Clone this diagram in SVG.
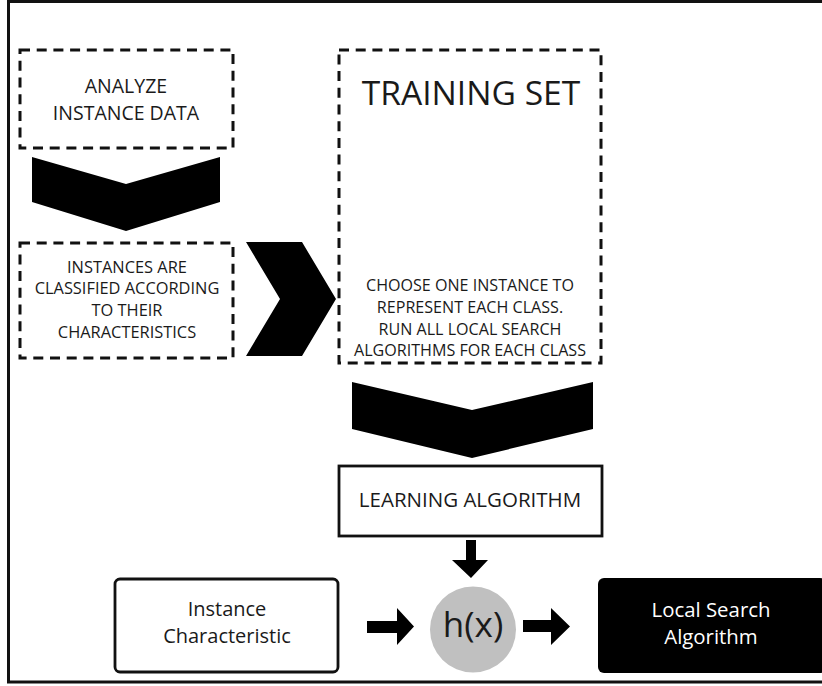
<svg xmlns="http://www.w3.org/2000/svg" width="822" height="686" viewBox="0 0 822 686">
  <style>
    .txt { font-family: "Open Sans", "Liberation Sans", sans-serif; fill: #1a1a1a; text-anchor: middle; }
    .dash { fill: #fff; stroke: #111; stroke-width: 3; stroke-dasharray: 10 6.7; }
    .solid { fill: #fff; stroke: #111; stroke-width: 2.8; }
    .shape { fill: #000; stroke: none; }
  </style>

  <rect x="0" y="0" width="822" height="686" fill="#fff"/>
  <!-- outer frame (right side runs off the canvas) -->
  <path d="M 824 1.5 H 8.5 V 682 H 824" fill="none" stroke="#111" stroke-width="3"/>

  <g id="analyze">
    <rect class="dash" x="20" y="50" width="213" height="98"/>
    <text class="txt" x="126" y="93" font-size="19.5">ANALYZE</text>
    <text class="txt" x="126" y="120" font-size="19.5">INSTANCE DATA</text>
  </g>

  <g id="classified">
    <rect class="dash" x="20" y="243" width="213" height="115"/>
    <text class="txt" x="127" y="273" font-size="16.4">INSTANCES ARE</text>
    <text class="txt" x="127" y="294" font-size="16.4">CLASSIFIED ACCORDING</text>
    <text class="txt" x="127" y="316" font-size="16.4">TO THEIR</text>
    <text class="txt" x="127" y="338" font-size="16.4">CHARACTERISTICS</text>
  </g>

  <g id="training-set">
    <rect class="dash" x="339" y="50" width="262" height="313"/>
    <text class="txt" x="471" y="105" font-size="33.6">TRAINING SET</text>
    <text class="txt" x="470" y="291" font-size="16.1">CHOOSE ONE INSTANCE TO</text>
    <text class="txt" x="470" y="313" font-size="16.1">REPRESENT EACH CLASS.</text>
    <text class="txt" x="470" y="335" font-size="16.1">RUN ALL LOCAL SEARCH</text>
    <text class="txt" x="470" y="356" font-size="16.1">ALGORITHMS FOR EACH CLASS</text>
  </g>

  <g id="learning-algorithm">
    <rect class="solid" x="339" y="466" width="263" height="70"/>
    <text class="txt" x="470" y="507" font-size="20.5">LEARNING ALGORITHM</text>
  </g>

  <g id="instance-characteristic">
    <rect class="solid" x="115" y="579" width="223" height="93" rx="5"/>
    <text class="txt" x="227" y="616" font-size="20">Instance</text>
    <text class="txt" x="227" y="643" font-size="20">Characteristic</text>
  </g>

  <g id="hypothesis">
    <circle cx="473" cy="629.5" r="43" fill="#c0c0c0"/>
    <text class="txt" x="473" y="637" font-size="35">h(x)</text>
  </g>

  <g id="local-search">
    <rect x="598" y="578" width="228" height="95" rx="6" fill="#000"/>
    <text class="txt" x="711" y="617" font-size="20.4" style="fill:#fff">Local Search</text>
    <text class="txt" x="711" y="644" font-size="20.4" style="fill:#fff">Algorithm</text>
  </g>

  <g id="connectors">
    <!-- chevrons -->
    <polygon class="shape" points="32,157 126,184 220,157 220,202 126,231 32,202"/>
    <polygon class="shape" points="246,242 302,242 336,299 302,356 246,356 280,299"/>
    <polygon class="shape" points="352,382 472,410 593,382 593,429 472,458 352,429"/>
    <!-- block arrows -->
    <polygon class="shape" points="466,540 476,540 476,560 488,560 471,578 452,560 466,560"/>
    <polygon class="shape" points="367,621 397,621 397,608 414,626.5 397,645 397,633 367,633"/>
    <polygon class="shape" points="523,620 551,620 551,608 570,626.5 551,645 551,632 523,632"/>
  </g>
</svg>
